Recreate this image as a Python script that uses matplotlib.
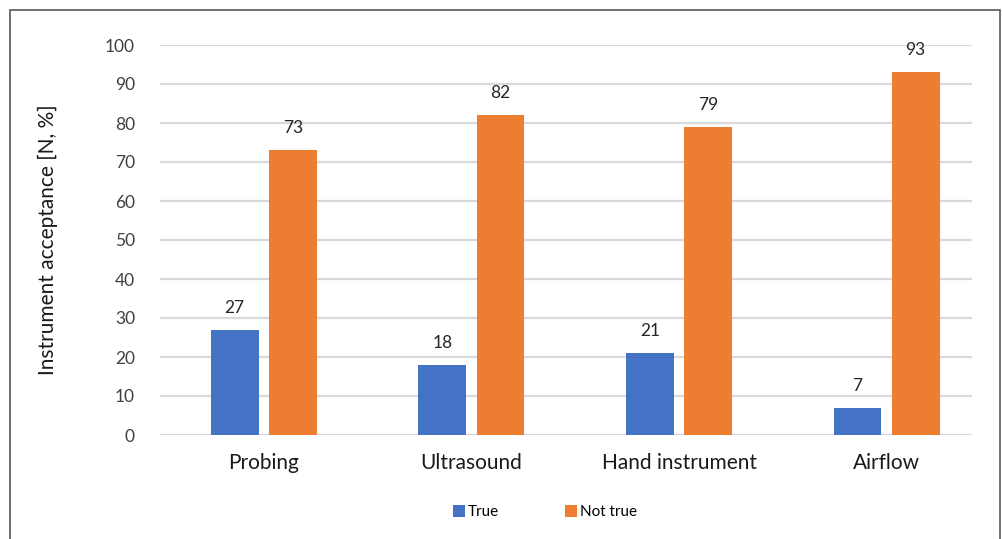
import matplotlib
matplotlib.use("Agg")
import matplotlib.pyplot as plt
from matplotlib.patches import Rectangle
import numpy as np

categories = ["Probing", "Ultrasound", "Hand instrument", "Airflow"]
true_vals = [27, 18, 21, 7]
not_true_vals = [73, 82, 79, 93]
series_names = ["True", "Not true"]
yticks = list(range(0, 101, 10))

plt.rcParams['font.family'] = ['Lato', 'DejaVu Sans']

W, H = 1003, 539
fig = plt.figure(figsize=(W / 100, H / 100), dpi=100)

# outer frame (bottom edge lies outside the picture)
fig.patches.append(Rectangle((10 / W, -0.05), (1000 - 10) / W, 1.05 - 10 / H,
                             transform=fig.transFigure, fill=False,
                             edgecolor="#595959", linewidth=1.2, clip_on=False))

ax = fig.add_axes([160 / W, 1 - 435 / H, 812 / W, 390 / H])

x = np.arange(len(categories))
bw = 0.23
off = 0.14
blue = "#4472C4"
orange = "#ED7D31"
b1 = ax.bar(x - off, true_vals, bw, color=blue, label=series_names[0], zorder=3)
b2 = ax.bar(x + off, not_true_vals, bw, color=orange, label=series_names[1], zorder=3)

for bars in (b1, b2):
    for r in bars:
        ax.annotate(f"{r.get_height():g}", (r.get_x() + r.get_width() / 2, r.get_height()),
                    xytext=(0, 10), textcoords="offset points", ha="center", va="bottom",
                    fontsize=12.5, color="#262626")

ax.set_xlim(-0.5, 3.411)
ax.set_ylim(0, 100)
ax.set_yticks(yticks)
ax.set_xticks(x)
ax.set_xticklabels(categories, fontsize=15, color="#1a1a1a")
ax.tick_params(axis="y", length=0, pad=18, labelsize=12.5, labelcolor="#404040")
ax.tick_params(axis="x", length=0, pad=13)
ax.grid(axis="y", color="#D9D9D9", linewidth=1.6, zorder=0)
for s in ax.spines.values():
    s.set_visible(False)

ax.set_ylabel("Instrument acceptance [N, %]", fontsize=15, color="#1a1a1a", labelpad=34)

fig.legend(handles=[b1, b2], labels=series_names, loc="center",
           bbox_to_anchor=(545 / W, 1 - 512 / H), ncol=2, frameon=False,
           fontsize=11, handlelength=0.8, handleheight=0.8, handletextpad=0.2,
           columnspacing=4.3)

fig.savefig("out.png", dpi=100)
